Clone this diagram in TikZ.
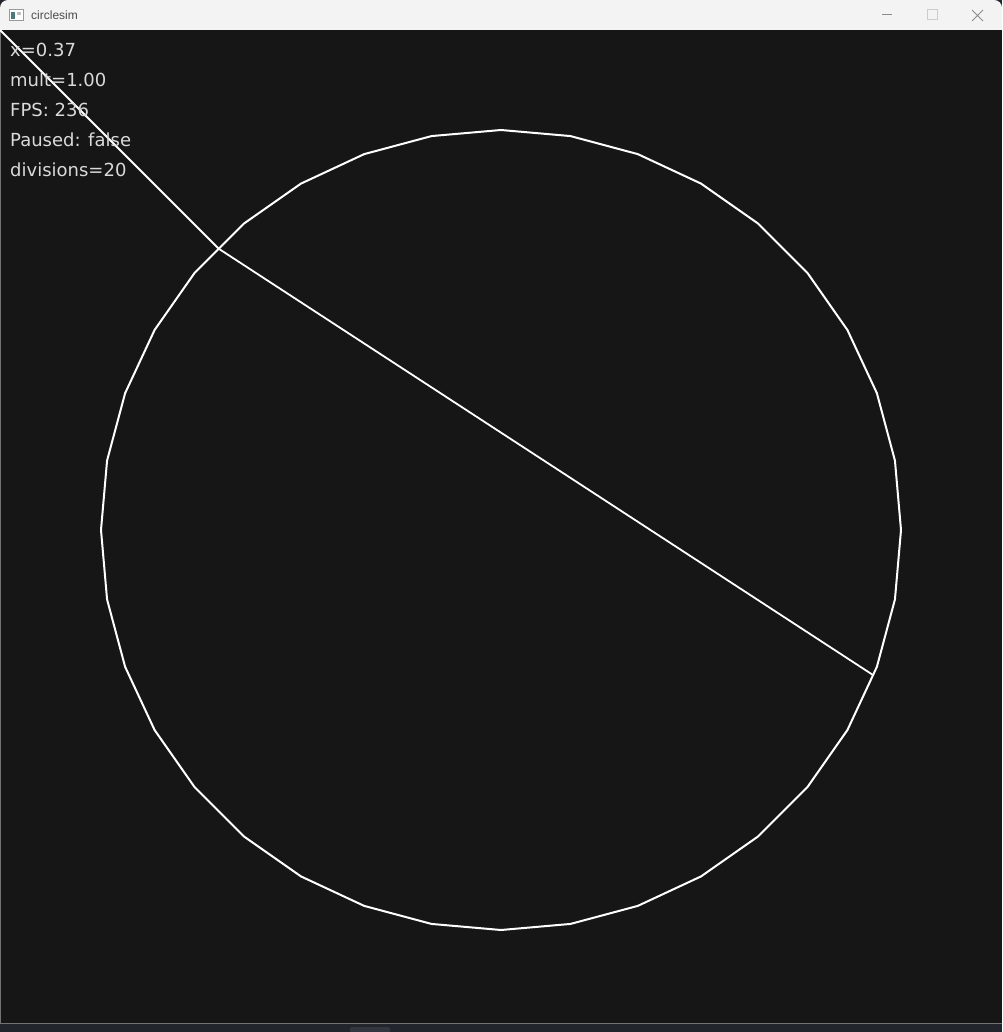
\documentclass[tikz,border=0pt]{standalone}
\usepackage{fontspec}
\setmainfont{DejaVu Sans}
\newfontfamily\uifont{Liberation Sans}
\usetikzlibrary{calc}
\definecolor{canvas}{HTML}{161616}
\definecolor{titlebar}{HTML}{F3F3F3}
\definecolor{desk}{HTML}{22252C}
\definecolor{tab}{HTML}{33363E}
\definecolor{hudtext}{HTML}{DADADA}
\tikzset{
  wire/.style={white, line width=2pt, line join=round},
  hud/.style={anchor=base west, inner sep=0pt, text=hudtext, font=\fontsize{18}{18}\selectfont},
  winbtn/.style={draw=black!45, line width=1pt},
}
\begin{document}
\begin{tikzpicture}[x=1pt,y=-1pt]
  \useasboundingbox (0,0) rectangle (1002,1032);
  % window frame
  \fill[desk] (0,0) rectangle (1002,1032);
  \fill[titlebar, rounded corners=8pt] (0,0) rectangle (1002,60);
  \fill[canvas] (0,30) rectangle (1002,1023);
  \draw[black!55, line width=1pt] (0.5,30) -- (0.5,1023.5) -- (1002,1023.5);
  \fill[tab, rounded corners=2pt] (350,1027) rectangle (390,1036);
  % title bar
  \node (icon) [draw=black!40, fill=white, minimum width=14pt, minimum height=11pt, inner sep=0pt] at (16,15) {};
  \fill[teal!50!black!70] (11,12) rectangle (15,19);
  \fill[black!25] (17,12) rectangle (21,15);
  \node (title) [anchor=base west, inner sep=0pt, text=black!70, font=\uifont\fontsize{12}{12}\selectfont] at (31,20) {circlesim};
  \draw[winbtn] (882,15) -- (892,15);
  \draw[winbtn, draw=black!20] (927,10) rectangle (937,20);
  \draw[winbtn] (972,10) -- (983,21) (983,10) -- (972,21);
  % polygon circle
  \coordinate (centre) at (501,530);
  \foreach \a [count=\i] in {0,10,...,350}
    \coordinate (v\i) at ($(centre)+(\a:400)$);
  \draw[wire] (v1) \foreach \i in {2,...,36} { -- (v\i) } -- cycle;
  % the chord
  \coordinate (corner) at (0,30);
  \coordinate (hit) at ($(v23)!0.49!(v24)$);
  \coordinate (bounce) at ($(v3)!0.13!(v4)$);
  \draw[wire, line width=1.8pt] (corner) -- (hit) -- (bounce);
  % overlay text
  \node (xval) [hud] at (10,57) {x=0.37};
  \node (mult) [hud] at (10,87) {mult=1.00};
  \node (fps) [hud] at (10,117) {FPS: 236};
  \node (paused) [hud] at (10,147) {Paused: false};
  \node (divs) [hud] at (10,177) {divisions=20};
\end{tikzpicture}
\end{document}
